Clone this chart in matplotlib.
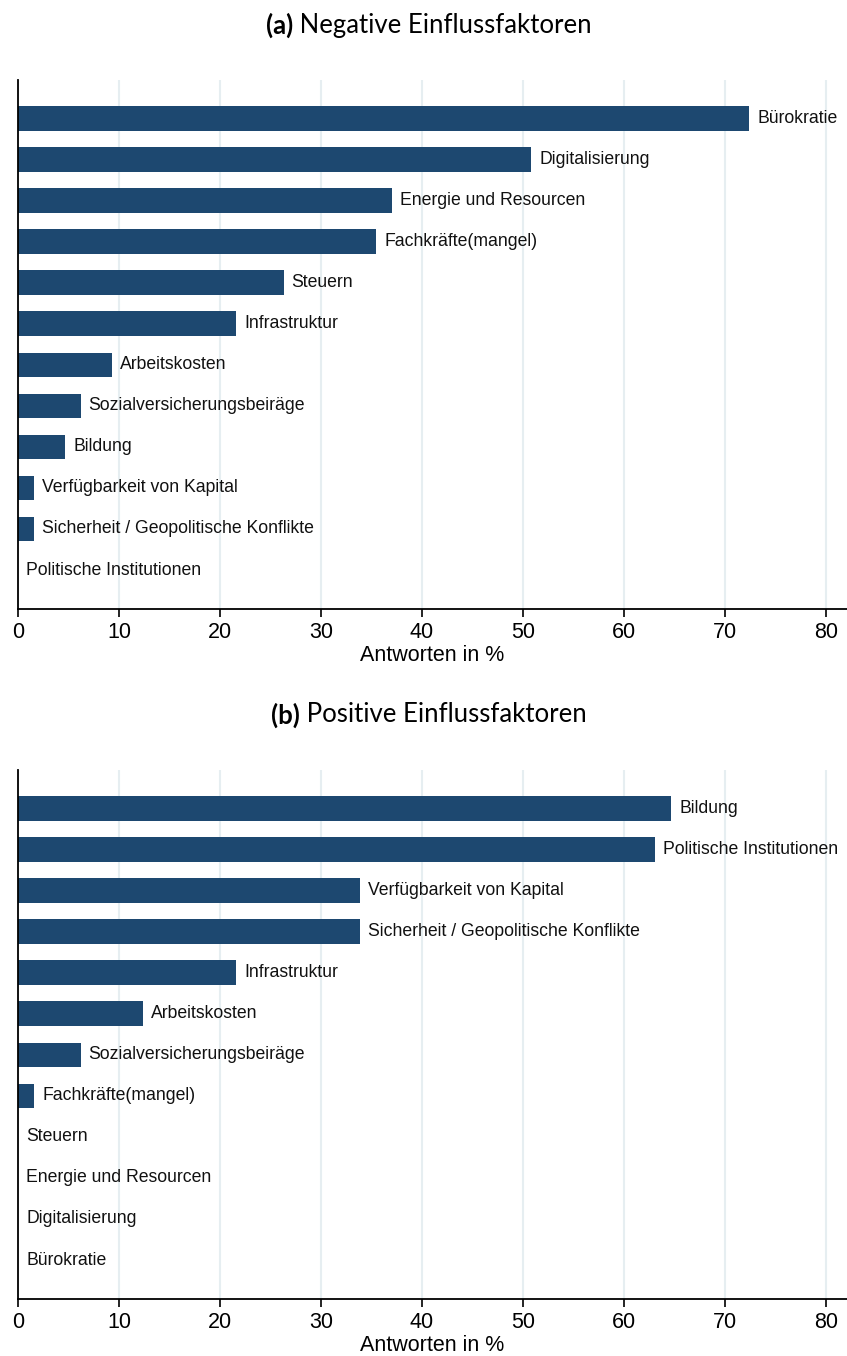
import matplotlib
matplotlib.use("Agg")
import matplotlib.pyplot as plt

# (a) negative factors, top to bottom
neg_labels = ["Bürokratie", "Digitalisierung", "Energie und Resourcen", "Fachkräfte(mangel)",
              "Steuern", "Infrastruktur", "Arbeitskosten", "Sozialversicherungsbeiräge",
              "Bildung", "Verfügbarkeit von Kapital", "Sicherheit / Geopolitische Konflikte",
              "Politische Institutionen"]
neg_values = [72.4, 50.8, 37.0, 35.5, 26.3, 21.6, 9.3, 6.2, 4.7, 1.6, 1.6, 0.0]

# (b) positive factors, top to bottom
pos_labels = ["Bildung", "Politische Institutionen", "Verfügbarkeit von Kapital",
              "Sicherheit / Geopolitische Konflikte", "Infrastruktur", "Arbeitskosten",
              "Sozialversicherungsbeiräge", "Fachkräfte(mangel)", "Steuern",
              "Energie und Resourcen", "Digitalisierung", "Bürokratie"]
pos_values = [64.7, 63.1, 33.9, 33.9, 21.6, 12.4, 6.2, 1.6, 0.0, 0.0, 0.0, 0.0]

x_ticks = [0, 10, 20, 30, 40, 50, 60, 70, 80]

bar_color = "#1d4870"
grid_color = "#e6eef1"
W, H = 847, 1356

plt.rcParams['font.family'] = ['Liberation Sans', 'DejaVu Sans']

fig = plt.figure(figsize=(W / 100, H / 100), dpi=100)


def draw_panel(ax, labels, values):
    pos = list(range(len(labels)))
    ax.barh(pos, values, height=0.6, color=bar_color, zorder=2)
    for p, v, lab in zip(pos, values, labels):
        ax.text(v + 0.8, p, lab, va='center', ha='left', fontsize=12.7, color='#111111', zorder=3)
    ax.set_xlim(0, 82.1)
    ax.set_ylim(11.95, -0.94)
    ax.set_xticks(x_ticks)
    ax.set_yticks([])
    ax.grid(axis='x', color=grid_color, linewidth=1.5, zorder=0)
    ax.set_axisbelow(True)
    for s in ['top', 'right']:
        ax.spines[s].set_visible(False)
    for s in ['left', 'bottom']:
        ax.spines[s].set_linewidth(1.3)
    ax.tick_params(axis='x', length=6, width=1.2, labelsize=15.5, pad=3)
    ax.set_xlabel("Antworten in %", fontsize=15.5, labelpad=1.5)


def panel_title(y_px, tag, text):
    y = 1 - y_px / H
    kw = dict(fontsize=18.5, family=['Lato', 'DejaVu Sans'], va='center', ha='left')
    t1 = fig.text(0, y, tag, fontweight='bold', **kw)
    t2 = fig.text(0, y, " " + text, **kw)
    r = fig.canvas.get_renderer()
    w1 = t1.get_window_extent(r).width
    w2 = t2.get_window_extent(r).width
    x0 = 428.5 - (w1 + w2) / 2
    t1.set_x(x0 / W)
    t2.set_x((x0 + w1) / W)


left = 18 / W
width = (W - 18) / W
ax_a = fig.add_axes([left, 1 - 609 / H, width, 529 / H])
ax_b = fig.add_axes([left, 1 - 1299 / H, width, 529 / H])

draw_panel(ax_a, neg_labels, neg_values)
draw_panel(ax_b, pos_labels, pos_values)

panel_title(25, "(a)", "Negative Einflussfaktoren")
panel_title(715, "(b)", "Positive Einflussfaktoren")

fig.savefig("out.png", dpi=100)
